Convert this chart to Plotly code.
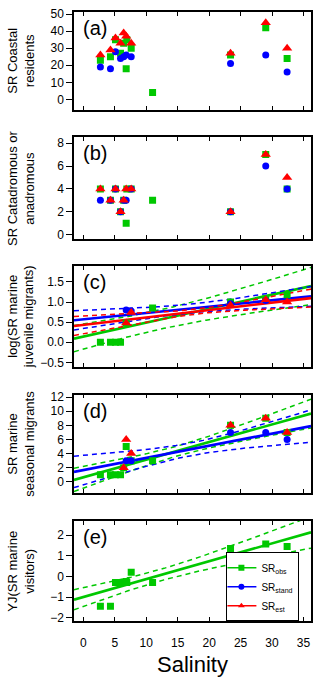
import numpy as np
import plotly.graph_objects as go

# site salinities
sal = [2.7, 4.3, 5.1, 5.9, 6.4, 6.8, 6.9, 7.6, 11.0, 23.4, 29.0, 32.4]

# (a) coastal residents
obs_a = [23, 25, 35, 27, 33, 18, 35, 30, 4, 26, 42, 24]
stand_a = [19, 18, 28, 24, 25, 26, None, 25, None, 21, 26, 16]
est_a = [26, 29, 36, 33, 39, 37, None, 33, None, 27, 45, 30]

# (b) catadromous or anadromous
obs_b = [4, 3, 4, 2, 3, 1, 4, 4, 3, 2, 7, 4]
stand_b = [3, 3, 4, 2, 3, 3, None, 4, None, 2, 6, 4]
est_b = [4, 3, 4, 2, 3, 4, None, 4, None, 2, 7, 5]

# (c) log(SR marine juvenile migrants)
obs_c = [0, 0, 0, 0, None, 0.48, None, None, 0.85, 1.0, 1.08, 1.18]
stand_c = [None, None, None, None, None, 0.80, None, 0.78, None, 0.96, 1.04, None]
est_c = [None, None, None, None, None, 0.48, None, 0.74, None, 0.92, 1.06, 1.0]

# (d) marine seasonal migrants
obs_d = [1, 1, 1, 1, 2, 5, None, 3, 3, 8, 9, 7]
stand_d = [None, None, None, None, None, 3, None, 3, None, 7, 7, 6]
est_d = [None, None, None, None, 2, 6, None, 4, None, 8, 9, 7]

# (e) YJ(SR marine visitors)
obs_e = [-1.45, -1.45, -0.3, -0.3, -0.3, -0.25, -0.3, 0.2, -0.3, 1.35, 1.57, 1.45]

# fitted lines: intercept, slope, band c0, band c1, band centre
fit_c_obs = [0.142, 0.0347, 0.24, 0.0164, 12.0]
fit_c_stand = [0.569, 0.0158, 0.11, 0.0115, 17.0]
fit_c_est = [0.433, 0.0184, 0.06, 0.0118, 18.0]
fit_d_obs = [0.65, 0.249, 0.7, 0.09, 15.0]
fit_d_stand = [1.67, 0.172, 0.9, 0.11, 17.0]
fit_e_obs = [-1.0, 0.0865, 0.278, 0.0295, 12.0]

y_titles = ["SR Coastal<br>residents", "SR Catadromous or<br>anadromous",
            "log(SR marine<br>juvenile migrants)", "SR marine<br>seasonal migrants",
            "YJ(SR marine<br>visitors)"]
panel_tags = ["(a)", "(b)", "(c)", "(d)", "(e)"]
y_ranges = [[-6, 51.3], [-0.35, 8.5], [-0.61, 1.9], [-1.6, 12.35], [-2.16, 2.69]]
y_dticks = [10, 2, 0.5, 2, 1]
x_range = [-1.5, 36.2]

GREEN = "#00c800"
BLUE = "#0000ff"
RED = "#ff0000"
FONT = "Liberation Sans, Arial, sans-serif"

domains = [[0.8398, 1.0], [0.6278, 0.794], [0.4175, 0.5831], [0.2099, 0.3718], [0.0, 0.1646]]

fig = go.Figure()


def ax(n, kind):
  return kind if n == 1 else kind + str(n)


def add_points(n, vals, color, symbol, size):
  xs = [s for s, v in zip(sal, vals) if v is not None]
  ys = [v for v in vals if v is not None]
  fig.add_trace(go.Scatter(x=xs, y=ys, mode="markers", showlegend=False,
                           marker=dict(color=color, symbol=symbol, size=size, line=dict(width=0)),
                           xaxis=ax(n, "x"), yaxis=ax(n, "y")))


def add_fit(n, pars, color):
  a, b, c0, c1, xm = pars
  xs = np.linspace(x_range[0], x_range[1], 80)
  yf = a + b * xs
  hw = np.sqrt(c0 ** 2 + (c1 * (xs - xm)) ** 2)
  for yy, dash, w in [(yf + hw, "5px,4px", 1.5), (yf - hw, "5px,4px", 1.5), (yf, "solid", 2.6)]:
    fig.add_trace(go.Scatter(x=xs, y=yy, mode="lines", showlegend=False,
                             line=dict(color=color, dash=dash, width=w),
                             xaxis=ax(n, "x"), yaxis=ax(n, "y")))


# fits
add_fit(3, fit_c_obs, GREEN)
add_fit(3, fit_c_stand, BLUE)
add_fit(3, fit_c_est, RED)
add_fit(4, fit_d_obs, GREEN)
add_fit(4, fit_d_stand, BLUE)
add_fit(5, fit_e_obs, GREEN)

# points
panels = [(obs_a, stand_a, est_a), (obs_b, stand_b, est_b), (obs_c, stand_c, est_c),
          (obs_d, stand_d, est_d), (obs_e, None, None)]
for i, (o, s, e) in enumerate(panels):
  n = i + 1
  add_points(n, o, GREEN, "square", 7)
  if s is not None:
    add_points(n, s, BLUE, "circle", 7)
  if e is not None:
    add_points(n, e, RED, "triangle-up", 9)

# legend entries
for name, color, symbol in [("SR<sub>obs</sub>", GREEN, "square"),
                            ("SR<sub>stand</sub>", BLUE, "circle"),
                            ("SR<sub>est</sub>", RED, "triangle-up")]:
  fig.add_trace(go.Scatter(x=[None], y=[None], mode="lines+markers", name=name,
                           line=dict(color=color, width=1.5),
                           marker=dict(color=color, symbol=symbol, size=6),
                           xaxis="x5", yaxis="y5"))

layout = dict(
  width=320, height=684, autosize=False,
  margin=dict(l=74, r=7, t=9, b=63),
  plot_bgcolor="white", paper_bgcolor="white",
  font=dict(family=FONT, size=12, color="black"),
  showlegend=True,
  legend=dict(x=0.643, y=0.113, xanchor="left", yanchor="top",
              bordercolor="black", borderwidth=1, bgcolor="white",
              font=dict(size=10), tracegroupgap=0, itemwidth=30,
              indentation=-6),
)
annotations = []
for i in range(5):
  n = i + 1
  layout[ax(n, "xaxis")] = dict(
    domain=[0, 1], anchor=ax(n, "y"), range=x_range, dtick=5, tick0=0,
    ticks="inside", ticklen=4, tickcolor="black", mirror="ticks",
    showline=True, linecolor="black", linewidth=1.5,
    showgrid=False, zeroline=False, showticklabels=(n == 5),
    ticklabelstandoff=10, ticklabeloverflow="allow", tickfont=dict(size=12))
  layout[ax(n, "yaxis")] = dict(
    domain=domains[i], anchor=ax(n, "x"), range=y_ranges[i], dtick=y_dticks[i],
    tick0=0, ticks="outside", ticklen=6, tickcolor="black",
    showline=True, linecolor="black", linewidth=1.5, mirror=True,
    showgrid=False, zeroline=False, tickfont=dict(size=12),
    tickformat=".1f" if n == 3 else None)
  # inside ticks on the right edge
  layout["yaxis" + str(n + 5)] = dict(
    overlaying=ax(n, "y"), anchor=ax(n, "x"), side="right", range=y_ranges[i],
    dtick=y_dticks[i], tick0=0, ticks="inside", ticklen=4, tickcolor="black",
    showticklabels=False, showgrid=False, zeroline=False, showline=False)
  annotations.append(dict(
    text=y_titles[i], xref="paper", yref="paper", x=-0.224,
    y=(domains[i][0] + domains[i][1]) / 2, xanchor="center", yanchor="middle",
    textangle=-90, showarrow=False, font=dict(size=13)))
  annotations.append(dict(
    text=panel_tags[i], xref=ax(n, "x") + " domain", yref=ax(n, "y") + " domain",
    x=0.03, y=0.97, xanchor="left", yanchor="top", showarrow=False,
    font=dict(size=20)))

annotations.append(dict(text="Salinity", xref="paper", yref="paper", x=0.5, y=-0.072,
                        xanchor="center", yanchor="middle", showarrow=False,
                        font=dict(size=22)))
layout["annotations"] = annotations
fig.update_layout(**layout)

# drop the default page margin so the figure fills the window exactly
fig.write_html("out.html", config={"displayModeBar": False},
               post_script="document.body.style.margin='0px';")
